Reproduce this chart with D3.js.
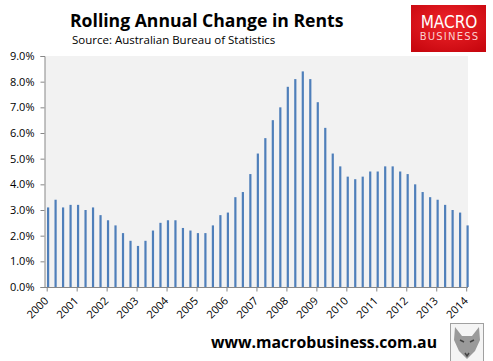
<!DOCTYPE html>
<html>
<head>
<meta charset="utf-8">
<script src="https://cdn.jsdelivr.net/npm/d3@7"></script>
<style>
  body { margin: 0; background: #fff; }
  svg { display: block; }
</style>
</head>
<body>
<div id="chart"></div>
<script>
// Rolling annual change in rents, quarterly, 2000 Q1 - 2014 Q1
const yearLabels = ["2000","2001","2002","2003","2004","2005","2006","2007","2008","2009","2010","2011","2012","2013","2014"];
const rentChange = [
  3.1, 3.4, 3.1, 3.2,   // 2000
  3.2, 3.0, 3.1, 2.8,   // 2001
  2.6, 2.4, 2.1, 1.8,   // 2002
  1.6, 1.8, 2.2, 2.5,   // 2003
  2.6, 2.6, 2.3, 2.2,   // 2004
  2.1, 2.1, 2.4, 2.8,   // 2005
  2.9, 3.5, 3.7, 4.4,   // 2006
  5.2, 5.8, 6.5, 7.0,   // 2007
  7.8, 8.1, 8.4, 8.1,   // 2008
  7.2, 6.2, 5.2, 4.7,   // 2009
  4.3, 4.2, 4.3, 4.5,   // 2010
  4.5, 4.7, 4.7, 4.5,   // 2011
  4.4, 4.0, 3.7, 3.5,   // 2012
  3.4, 3.2, 3.0, 2.9,   // 2013
  2.4                   // 2014
];
const yTicks = [0, 1, 2, 3, 4, 5, 6, 7, 8, 9];

const width = 493, height = 361;
const font = "'Open Sans', 'Noto Sans', sans-serif";

const svg = d3.select("#chart").append("svg")
  .attr("width", width)
  .attr("height", height);

// quarter index -> x (year ticks sit every 4 quarters)
const x = d3.scaleLinear().domain([0, rentChange.length - 1]).range([46.7, 466.2]);
const y = d3.scaleLinear().domain([0, 9]).range([287, 56]);

// plot area background
svg.append("rect")
  .attr("x", 45).attr("y", y(9))
  .attr("width", 468 - 45).attr("height", y(0) - y(9))
  .attr("fill", "#f2f2f2");

// bars
svg.append("g").selectAll("rect")
  .data(rentChange)
  .join("rect")
  .attr("x", (d, i) => x(i) + 0.3)
  .attr("y", d => y(d))
  .attr("width", 2.2)
  .attr("height", d => y(0) - y(d))
  .attr("fill", "#4f7fba");

// y axis
const yAxis = svg.append("g")
  .attr("transform", "translate(44.5,0)")
  .call(d3.axisLeft(y).tickValues(yTicks).tickSize(4).tickFormat(d => d.toFixed(1) + "%"));
yAxis.select(".domain").attr("stroke", "#878787");
yAxis.selectAll(".tick line").attr("stroke", "#878787");
yAxis.selectAll("text")
  .attr("x", -10)
  .attr("fill", "#000")
  .style("font", "11px " + font);

// x axis
const xAxis = svg.append("g")
  .attr("transform", `translate(0,${y(0) + 0.5})`)
  .call(d3.axisBottom(x)
    .tickValues(yearLabels.map((d, i) => i * 4))
    .tickSize(4)
    .tickFormat((d, i) => yearLabels[i]));
xAxis.select(".domain").attr("stroke", "#878787").attr("d", "M44.5,0H468");
xAxis.selectAll(".tick line").attr("stroke", "#878787");
xAxis.selectAll("text")
  .attr("fill", "#000")
  .attr("text-anchor", "end")
  .attr("dy", null)
  .attr("transform", "translate(2,14) rotate(-45)")
  .attr("y", 0)
  .attr("x", 0)
  .style("font", "11px " + font);

// titles
svg.append("text")
  .attr("x", 70).attr("y", 27.3)
  .style("font", "bold 17.6px " + font)
  .attr("fill", "#000")
  .text("Rolling Annual Change in Rents");
svg.append("text")
  .attr("x", 72).attr("y", 44.3)
  .style("font", "11.5px " + font)
  .attr("fill", "#000")
  .text("Source: Australian Bureau of Statistics");

// logo
const grad = svg.append("defs").append("radialGradient").attr("id", "red")
  .attr("cx", "50%").attr("cy", "40%").attr("r", "70%");
grad.append("stop").attr("offset", "0%").attr("stop-color", "#f0262b");
grad.append("stop").attr("offset", "100%").attr("stop-color", "#c8070f");
svg.append("rect")
  .attr("x", 411).attr("y", 5).attr("width", 75).attr("height", 47)
  .attr("fill", "url(#red)");
svg.append("text")
  .attr("x", 449).attr("y", 28).attr("text-anchor", "middle")
  .style("font", "300 17px 'Liberation Sans Narrow', 'DejaVu Sans Condensed', sans-serif")
  .attr("fill", "#fff")
  .text("MACRO");
svg.append("text")
  .attr("x", 449.5).attr("y", 39.5).attr("text-anchor", "middle")
  .style("font", "10px 'Liberation Sans Narrow', 'DejaVu Sans', sans-serif")
  .attr("letter-spacing", "1.2")
  .attr("fill", "#fbd0d0")
  .text("BUSINESS");

// footer
svg.append("text")
  .attr("x", 211).attr("y", 348)
  .style("font", "bold 15.8px " + font)
  .attr("fill", "#000")
  .text("www.macrobusiness.com.au");

// wolf badge
const wolf = svg.append("g").attr("transform", "translate(450,323)");
wolf.append("rect").attr("x", 0.5).attr("y", 0.5).attr("width", 33).attr("height", 38)
  .attr("fill", "#f4f4f4").attr("stroke", "#a0a0a0");
wolf.append("path")
  .attr("d", "M5,4 L12,13 L22,13 L29,4 L30,17 L25,28 L17,36 L9,28 L4,17 Z")
  .attr("fill", "#9a9a9a");
wolf.append("path")
  .attr("d", "M10,17 L14,19 M24,17 L20,19 M15,30 L17,33 L19,30")
  .attr("stroke", "#444").attr("stroke-width", 1.5).attr("fill", "none");
</script>
</body>
</html>
